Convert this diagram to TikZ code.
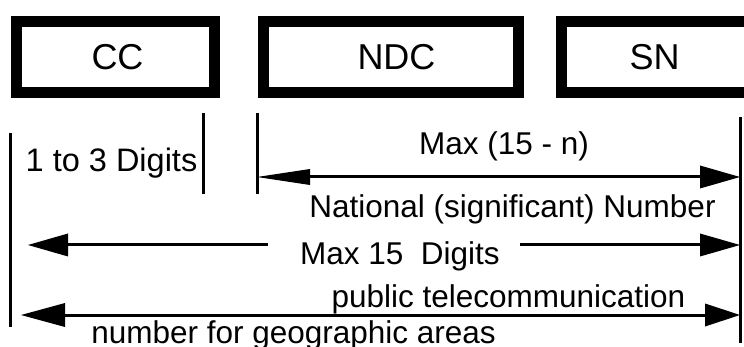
\documentclass[tikz,border=0pt]{standalone}
\usepackage{fontspec}
\setmainfont{Liberation Sans}
\usetikzlibrary{arrows.meta}
\tikzset{
  dimtip/.tip={Triangle[length=40pt,width=23pt,line width=0pt]},
  longtip/.tip={Triangle[length=53pt,width=16pt,line width=0pt]},
  wideltip/.tip={Triangle[length=44pt,width=24pt,line width=0pt]},
  shorttip/.tip={Triangle[length=35pt,width=23pt,line width=0pt]},
}
\begin{document}
\begin{tikzpicture}[x=1pt,y=-1pt,
  box/.style={draw, line width=11pt, inner sep=0pt, outer sep=0pt},
  boxlabel/.style={inner sep=0pt, anchor=base, font=\fontsize{36}{40}\selectfont},
  biglab/.style={inner sep=0pt, anchor=base, font=\fontsize{32.5}{38}\selectfont},
  lab/.style={inner sep=0pt, anchor=base, font=\fontsize{31.5}{36}\selectfont},
  guide/.style={line width=3pt},
  dimline/.style={line width=3pt},
]
\useasboundingbox (0,0) rectangle (744,347);

% number field boxes
\node[box, minimum width=198pt, minimum height=71pt] (cc) at (115.5,57) {};
\node[box, minimum width=254.7pt, minimum height=71pt] (ndc) at (390.65,57) {};
\node[box, minimum width=220pt, minimum height=71pt] (sn) at (671,57) {};
\node[boxlabel] (cclab) at (117.5,69.5) {CC};
\node[boxlabel] (ndclab) at (396.5,69.5) {NDC};
\node[boxlabel] (snlab) at (654.5,69.5) {SN};

% extension lines
\coordinate (v1t) at (10,133);  \coordinate (v1b) at (10,327);
\coordinate (v2t) at (203,113); \coordinate (v2b) at (203,194);
\coordinate (v3t) at (257,113); \coordinate (v3b) at (257,194);
\coordinate (v4t) at (740,117); \coordinate (v4b) at (740,343);
\draw[guide] (v1t) -- (v1b);
\draw[guide] (v2t) -- (v2b);
\draw[guide] (v3t) -- (v3b);
\draw[guide] (v4t) -- (v4b);

% dimension arrows
\coordinate (a1l) at (257,177); \coordinate (a1r) at (740,177);
\coordinate (a2l) at (28,245);  \coordinate (a2lm) at (268,245);
\coordinate (a2rm) at (520,245); \coordinate (a2r) at (740,245);
\coordinate (a3l) at (21,315);  \coordinate (a3r) at (740,315);
\draw[dimline, {longtip}-{dimtip}] (a1l) -- (a1r);
\draw[dimline, {dimtip}-] (a2l) -- (a2lm);
\draw[dimline, -{dimtip}] (a2rm) -- (a2r);
\draw[dimline, {wideltip}-{shorttip}] (a3l) -- (a3r);

% labels
\node[biglab] (cclen) at (111.5,172) {1 to 3 Digits};
\node[lab] (nsnlen) at (504,155) {Max (15 - n)};
\node[lab] (nsn) at (512.5,218) {National (significant) Number};
\node[lab] (maxlen) at (400,265) {Max 15\ \ Digits};
\node[lab] (pub1) at (508.5,308) {public telecommunication};
\node[lab] (pub2) at (293.5,343) {number for geographic areas};
\end{tikzpicture}
\end{document}
